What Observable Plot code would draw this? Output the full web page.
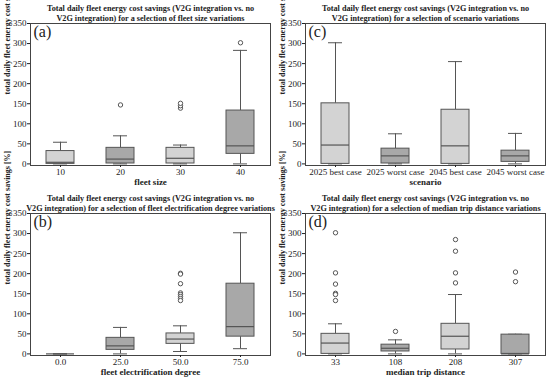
<!DOCTYPE html>
<html>
<head>
<meta charset="utf-8">
<script src="https://cdn.jsdelivr.net/npm/d3@7"></script>
<script src="https://cdn.jsdelivr.net/npm/@observablehq/plot@0.6"></script>
<style>
  html, body { margin: 0; padding: 0; background: #fff; }
  #wrap { position: relative; width: 550px; height: 379px; overflow: hidden; }
  .panel { position: absolute; }
</style>
</head>
<body>
<div id="wrap"></div>
<script>
// ---- shared ----
const yTicks = [0, 50, 100, 150, 200, 250, 300, 350];
const yLabel = "total daily fleet energy cost savings [%]";

// ---- panel (a): fleet size ----
const aTitle = "Total daily fleet energy cost savings (V2G integration vs. no\nV2G integration) for a selection of fleet size variations";
const aXLabel = "fleet size";
const aCats = ["10", "20", "30", "40"];
const aLow  = [0, 0, 0, 0];
const aQ1   = [0, 1, 1, 25];
const aMed  = [4, 12, 14, 45];
const aQ3   = [32, 40, 40, 133];
const aHigh = [54, 70, 47, 283];
const aOutCat = ["20", "30", "30", "30", "40"];
const aOutVal = [147, 139, 145, 151, 302];

// ---- panel (b): fleet electrification degree ----
const bTitle = "Total daily fleet energy cost savings (V2G integration vs. no\nV2G integration) for a selection of fleet electrification degree variations";
const bXLabel = "fleet electrification degree";
const bCats = ["0.0", "25.0", "50.0", "75.0"];
const bLow  = [0, 0, 6, 13];
const bQ1   = [0, 10, 25, 43];
const bMed  = [0, 20, 37, 68];
const bQ3   = [0, 40, 51, 175];
const bHigh = [0, 66, 70, 302];
const bOutCat = ["50.0", "50.0", "50.0", "50.0", "50.0", "50.0", "50.0", "50.0"];
const bOutVal = [201, 199, 175, 152, 148, 143, 138, 133];

// ---- panel (c): scenario ----
const cTitle = "Total daily fleet energy cost savings (V2G integration vs. no\nV2G integration) for a selection of scenario variations";
const cXLabel = "scenario";
const cCats = ["2025 best case", "2025 worst case", "2045 best case", "2045 worst case"];
const cLow  = [0, 0, 0, 0];
const cQ1   = [0, 1, 0, 5];
const cMed  = [47, 20, 45, 20];
const cQ3   = [151, 38, 135, 33];
const cHigh = [302, 75, 255, 76];
const cOutCat = [];
const cOutVal = [];

// ---- panel (d): median trip distance ----
const dTitle = "Total daily fleet energy cost savings (V2G integration vs. no\nV2G integration) for a selection of median trip distance variations";
const dXLabel = "median trip distance";
const dCats = ["33", "108", "208", "307"];
const dLow  = [0, 0, 0, 0];
const dQ1   = [0, 6, 11, 0];
const dMed  = [27, 14, 44, 0];
const dQ3   = [50, 23, 75, 48];
const dHigh = [75, 35, 148, 49];
const dOutCat = ["33", "33", "33", "33", "33", "33", "108", "208", "208", "208", "208", "307", "307"];
const dOutVal = [302, 202, 174, 151, 148, 133, 56, 285, 256, 202, 177, 204, 180];

// ---- styles ----
const LIGHT = "#d3d3d3";
const DARK = "#a8a8a8";
const EDGE = "#555555";
const FONT = "'Liberation Serif', 'DejaVu Serif', serif";

function panel(p) {
  const rows = p.cats.map((c, i) => ({cat: c, low: p.low[i], q1: p.q1[i], med: p.med[i], q3: p.q3[i], high: p.high[i], i}));
  const outs = p.outCat.map((c, i) => ({cat: c, v: p.outVal[i]}));
  const frameBottom = 165;
  return Plot.plot({
    width: 275,
    height: p.height,
    marginLeft: 30,
    marginRight: 5,
    marginTop: 23,
    marginBottom: p.height - frameBottom,
    style: {fontFamily: FONT, background: "transparent", color: "#222", overflow: "visible"},
    x: {domain: p.cats, padding: 0, axis: null},
    y: {domain: [-4, 350], axis: null},
    marks: [
      Plot.ruleX(rows, {x: "cat", y1: "low", y2: "q1", stroke: EDGE, strokeWidth: 1}),
      Plot.ruleX(rows, {x: "cat", y1: "q3", y2: "high", stroke: EDGE, strokeWidth: 1}),
      Plot.tickY(rows, {x: "cat", y: "low", stroke: EDGE, insetLeft: 23, insetRight: 23}),
      Plot.tickY(rows, {x: "cat", y: "high", stroke: EDGE, insetLeft: 23, insetRight: 23}),
      Plot.barY(rows, {filter: d => d.i % 2 === 0, x: "cat", y1: "q1", y2: "q3", fill: LIGHT, stroke: EDGE, strokeWidth: 1, insetLeft: 16, insetRight: 16}),
      Plot.barY(rows, {filter: d => d.i % 2 === 1, x: "cat", y1: "q1", y2: "q3", fill: DARK, stroke: EDGE, strokeWidth: 1, insetLeft: 16, insetRight: 16}),
      Plot.tickY(rows, {x: "cat", y: "med", stroke: EDGE, strokeWidth: 1.2, insetLeft: 16, insetRight: 16}),
      Plot.dot(outs, {x: "cat", y: "v", r: 2.2, stroke: EDGE, strokeWidth: 1, fill: "white"}),
      Plot.frame({stroke: "#444", strokeWidth: 1}),
      Plot.axisY({ticks: yTicks, tickSize: 3, tickPadding: 1, fontSize: 9, label: null, tickFormat: d => String(d)}),
      Plot.axisX({tickSize: 2, tickPadding: 1, fontSize: 9, label: null}),
      Plot.text([p.xlabel], {frameAnchor: "bottom", dy: 17, fontWeight: "bold", fontSize: 9, lineAnchor: "middle"}),
      Plot.text([yLabel], {frameAnchor: "left", dx: -23, rotate: -90, fontWeight: "bold", fontSize: 8, lineAnchor: "middle"}),
      Plot.text([p.title], {frameAnchor: "top", dy: -3, lineAnchor: "bottom", fontWeight: "bold", fontSize: 8.2, lineHeight: 1.22}),
      Plot.text([p.letter], {frameAnchor: "top-left", dx: 3, dy: 2, fontSize: 16, lineAnchor: "top", textAnchor: "start"})
    ]
  });
}

const specs = [
  {left: 0,   top: 0,   height: 190, cats: aCats, low: aLow, q1: aQ1, med: aMed, q3: aQ3, high: aHigh, outCat: aOutCat, outVal: aOutVal, title: aTitle, xlabel: aXLabel, letter: "(a)"},
  {left: 275, top: 0,   height: 190, cats: cCats, low: cLow, q1: cQ1, med: cMed, q3: cQ3, high: cHigh, outCat: cOutCat, outVal: cOutVal, title: cTitle, xlabel: cXLabel, letter: "(c)"},
  {left: 0,   top: 190, height: 189, cats: bCats, low: bLow, q1: bQ1, med: bMed, q3: bQ3, high: bHigh, outCat: bOutCat, outVal: bOutVal, title: bTitle, xlabel: bXLabel, letter: "(b)"},
  {left: 275, top: 190, height: 189, cats: dCats, low: dLow, q1: dQ1, med: dMed, q3: dQ3, high: dHigh, outCat: dOutCat, outVal: dOutVal, title: dTitle, xlabel: dXLabel, letter: "(d)"}
];

const wrap = document.getElementById("wrap");
for (const s of specs) {
  const div = document.createElement("div");
  div.className = "panel";
  div.style.left = s.left + "px";
  div.style.top = s.top + "px";
  div.appendChild(panel(s));
  wrap.appendChild(div);
}
</script>
</body>
</html>
